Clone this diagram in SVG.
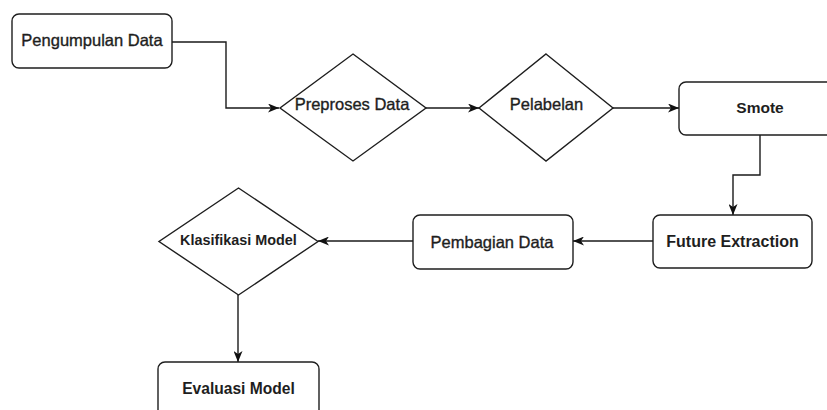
<svg xmlns="http://www.w3.org/2000/svg" width="827" height="410" viewBox="0 0 827 410">
<style>
.box{fill:#fff;stroke:#1e1e1e;stroke-width:1.4}
.edge{fill:none;stroke:#1a1a1a;stroke-width:1.4}
.t{font-family:"Liberation Sans",Arial,sans-serif;fill:#1e1e1e;text-anchor:middle}
.r{font-size:16.5px;font-weight:normal;stroke:#1e1e1e;stroke-width:0.35}
.b{font-weight:bold}
</style>
<defs>
<marker id="arr" viewBox="0 0 11 9" refX="11" refY="4.5" markerWidth="11" markerHeight="9" markerUnits="userSpaceOnUse" orient="auto">
<path d="M0,0 L11,4.5 L0,9 L3,4.5 z" fill="#111"/>
</marker>
</defs>
<rect width="827" height="410" fill="#fff"/>
<g id="connectors">
<path class="edge" d="M172,42 H226 V108 H279" marker-end="url(#arr)"/>
<path class="edge" d="M426,108 H479" marker-end="url(#arr)"/>
<path class="edge" d="M613,108 H679" marker-end="url(#arr)"/>
<path class="edge" d="M760,135 V175 H733 V215" marker-end="url(#arr)"/>
<path class="edge" d="M653,241 H573" marker-end="url(#arr)"/>
<path class="edge" d="M413,241 H318" marker-end="url(#arr)"/>
<path class="edge" d="M238,295 V362" marker-end="url(#arr)"/>
</g>
<g id="pengumpulan">
<rect class="box" x="12" y="14" width="160" height="54" rx="7"/>
<text class="t r" x="92" y="46">Pengumpulan Data</text>
</g>
<g id="preproses">
<polygon class="box" points="353,54 426,108 353,161 280,108"/>
<text class="t r" x="352" y="110">Preproses Data</text>
</g>
<g id="pelabelan">
<polygon class="box" points="546,54 613,108 546,161 479,108"/>
<text class="t r" x="546.5" y="110">Pelabelan</text>
</g>
<g id="smote">
<rect class="box" x="679" y="82" width="170" height="53" rx="7"/>
<text class="t b" x="760" y="113" font-size="15.5">Smote</text>
</g>
<g id="future">
<rect class="box" x="653" y="215" width="159" height="53" rx="7"/>
<text class="t b" x="732.5" y="247" font-size="16">Future Extraction</text>
</g>
<g id="pembagian">
<rect class="box" x="413" y="215" width="160" height="54" rx="7"/>
<text class="t r" x="492" y="248">Pembagian Data</text>
</g>
<g id="klasifikasi">
<polygon class="box" points="238.5,188 318,241.5 238.5,295 159,241.5"/>
<text class="t b" x="238.5" y="244.5" font-size="14.4">Klasifikasi Model</text>
</g>
<g id="evaluasi">
<rect class="box" x="158" y="362" width="161" height="60" rx="7"/>
<text class="t b" x="238.5" y="394" font-size="15.6">Evaluasi Model</text>
</g>
</svg>
